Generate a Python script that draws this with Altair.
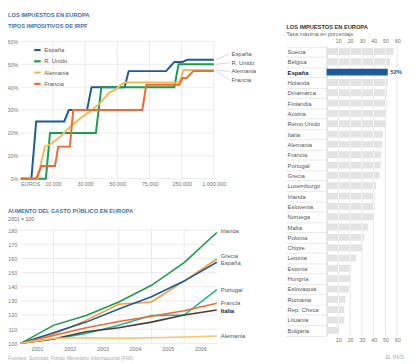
import altair as alt
import pandas as pd

# ---------------- DATA ----------------
# Tipos impositivos de IRPF (renta en euros -> tipo marginal %)
irpf_series = ["España", "R. Unido", "Alemania", "Francia"]
espana_renta = [0, 3300, 4800, 17000, 19900, 31200, 34000, 55700, 58800, 165000, 210000, 270000, 385000, 1000000]
espana_tipo = [0, 0, 25, 25, 30, 30, 40, 40, 47, 47, 51, 51, 52, 52]
runido_renta = [0, 7800, 9100, 36700, 40100, 210000, 233000, 1000000]
runido_tipo = [0, 0, 20, 20, 40, 40, 50, 50]
alemania_renta = [0, 5200, 7500, 9100, 13200, 20500, 27200, 33300, 39300, 44800, 49100, 52700, 55700, 238000, 292000, 1000000]
alemania_tipo = [0, 0, 14, 15, 17.5, 22.5, 26.5, 29.5, 33, 37.5, 39, 41, 42, 42, 47.5, 47.5]
francia_renta = [0, 4800, 6400, 11300, 13300, 20500, 22600, 69400, 72500, 237000, 269500, 368000, 520000, 1000000]
francia_tipo = [0, 0, 5.5, 5.5, 14, 14, 30, 30, 41, 41, 44, 44, 47, 47]
renta_ticks = [0, 10000, 30000, 50000, 75000, 250000, 1000000]
renta_labels = ["EUROS", "10.000", "30.000", "50.000", "75.000", "250.000", "1.000.000"]
tipo_ticks = [0, 10, 20, 30, 40, 50, 60]

# Aumento del gasto publico (2001 = 100)
gasto_periodos = [2001, 2002, 2003, 2004, 2005, 2006, 2007]
gasto_years = [2001, 2002, 2003, 2004, 2005, 2006]
gasto_series = ["Irlanda", "Grecia", "España", "Portugal", "Francia", "Italia", "Alemania"]
gasto_irlanda = [100, 112.7, 119.6, 129.2, 141, 157, 178.3]
gasto_grecia = [100, 106.5, 116.2, 127.6, 129.2, 144, 159.6]
gasto_espana = [100, 107.5, 115, 124.2, 132.9, 144, 157.3]
gasto_portugal = [100, 103, 107, 112.7, 119.6, 120, 137.9]
gasto_francia = [100, 105.5, 111, 115.5, 119.2, 123, 128.3]
gasto_italia = [100, 103, 108.2, 111, 115, 120, 123.5]
gasto_alemania = [100, 103.5, 104, 103.5, 104, 104.5, 105.2]
gasto_ticks = [100, 110, 120, 130, 140, 150, 160, 170, 180]

# Tasa maxima en porcentaje
paises = ["Suecia", "Bélgica", "España", "Holanda", "Dinamarca", "Finlandia", "Austria",
          "Reino Unido", "Italia", "Alemania", "Francia", "Portugal", "Grecia", "Luxemburgo",
          "Irlanda", "Eslovenia", "Noruega", "Malta", "Polonia", "Chipre", "Letonia", "Estonia",
          "Hungría", "Eslovaquia", "Rumania", "Rep. Checa", "Lituania", "Bulgaria"]
tasas = [57, 54, 52, 52, 51.5, 51, 50, 50, 48, 47.5, 46.5, 46, 45, 42, 41, 41, 40, 35, 32,
         30, 25, 21, 20, 19, 16, 15, 15, 10]
tasa_ticks = [10, 20, 30, 40, 50, 60]

# ---------------- STYLE / LAYOUT ----------------
FONT = "Liberation Sans"
TITLE_BLUE = "#3a72ad"
irpf_colors = ["#1c5b9a", "#1d9a4c", "#f6b855", "#f2682b"]
gasto_colors = ["#1d9a4c", "#f39c38", "#1c5b9a", "#22b3a0", "#f2682b", "#4e3b30", "#f5c46e"]
GRID = "#e6e6e6"
LABEL = "#777777"

W, H = 406, 356
TL_X0, TL_X1 = 13, 210
TL_XR = [TL_X0 + i * (TL_X1 - TL_X0) / 6 for i in range(7)]
TL_YR = [170.5, 30.5]
BL_XR = [13, 213]
BL_YR = [338.5, 223]
R_XR = [325, 397]
R_YR = [35.5, 330.5]

sx_tl = alt.Scale(domain=renta_ticks, range=TL_XR, nice=False, zero=False)
sy_tl = alt.Scale(domain=[0, 60], range=TL_YR, nice=False, zero=False)
sx_bl = alt.Scale(domain=[2001, 2007], range=BL_XR, nice=False, zero=False)
sy_bl = alt.Scale(domain=[100, 180], range=BL_YR, nice=False, zero=False)
sx_r = alt.Scale(domain=[0, 60], range=R_XR, nice=False)
sy_r = alt.Scale(domain=paises, range=R_YR, paddingInner=0, paddingOuter=0)


def text_layer(txt, x, y, size=6.0, color="#555555", weight="normal", align="left"):
    return alt.Chart(pd.DataFrame({"t": [txt]})).mark_text(
        align=align, baseline="middle", fontSize=size, color=color, fontWeight=weight, font=FONT
    ).encode(x=alt.value(x), y=alt.value(y), text="t:N")


# ---------------- TOP LEFT: IRPF ----------------
rows = []
for s, xs, ys in zip(irpf_series,
                     [espana_renta, runido_renta, alemania_renta, francia_renta],
                     [espana_tipo, runido_tipo, alemania_tipo, francia_tipo]):
    for i, (xv, yv) in enumerate(zip(xs, ys)):
        rows.append({"serie": s, "renta": xv, "tipo": yv, "i": i})
irpf_df = pd.DataFrame(rows)

tl_grid_df = pd.DataFrame(
    [{"x": renta_ticks[0], "x2": renta_ticks[-1], "y": t, "y2": t} for t in tipo_ticks]
    + [{"x": r, "x2": r, "y": tipo_ticks[0], "y2": tipo_ticks[-1]} for r in renta_ticks[1:]]
)
renta_expr = " : ".join(f"datum.value === {v} ? '{l}'" for v, l in zip(renta_ticks, renta_labels)) + " : ''"

ax_tl_x = alt.Axis(values=renta_ticks, labelExpr=renta_expr, orient="bottom", title=None, grid=False,
                   ticks=False, domain=False, labelFontSize=5.5, labelColor=LABEL, labelPadding=3,
                   labelOverlap=False, labelFlush=False, offset=TL_YR[0] - H,
                   labelAlign={"condition": {"test": "datum.value === 0", "value": "left"}, "value": "center"})
ax_tl_y = alt.Axis(values=tipo_ticks, labelExpr="datum.value + '%'", orient="left", title=None,
                   grid=False, ticks=False, domain=False, labelFontSize=5.5, labelColor=LABEL,
                   labelPadding=3, offset=-TL_X0)

tl_grid = alt.Chart(tl_grid_df).mark_rule(color=GRID, strokeWidth=0.8).encode(
    x=alt.X("x:Q", scale=sx_tl, axis=ax_tl_x), x2="x2:Q",
    y=alt.Y("y:Q", scale=sy_tl, axis=ax_tl_y), y2="y2:Q")

tl_lines = alt.Chart(irpf_df).mark_line(strokeWidth=2).encode(
    x=alt.X("renta:Q", scale=sx_tl, axis=None),
    y=alt.Y("tipo:Q", scale=sy_tl, axis=None),
    color=alt.Color("serie:N", scale=alt.Scale(domain=irpf_series, range=irpf_colors),
                    legend=alt.Legend(orient="none", legendX=25.5, legendY=34.8, title=None,
                                      symbolType="stroke", symbolStrokeWidth=2.2, symbolSize=44,
                                      labelFontSize=6, labelColor="#555555", labelFont=FONT,
                                      rowPadding=2.5, labelOffset=2.5, padding=0)),
    order="i:Q")

# end labels with leader lines (pixel nudges are layout)
tl_label_dy = [-6, -1.5, 1.5, 9]
px_per_pct = (TL_YR[0] - TL_YR[1]) / 60
tl_end = pd.DataFrame({
    "serie": irpf_series,
    "fin": [espana_tipo[-1], runido_tipo[-1], alemania_tipo[-1], francia_tipo[-1]],
})
tl_end["pos"] = [f - d / px_per_pct for f, d in zip(tl_end["fin"], tl_label_dy)]

tl_leaders = alt.Chart(tl_end).mark_rule(color="#bbbbbb", strokeWidth=0.6).encode(
    x=alt.value(TL_X1 + 2), x2=alt.value(TL_X1 + 16),
    y=alt.Y("fin:Q", scale=sy_tl, axis=None), y2="pos:Q")
tl_labels = alt.Chart(tl_end).mark_text(align="left", baseline="middle", fontSize=6,
                                        color="#555555", font=FONT).encode(
    x=alt.value(TL_X1 + 18), y=alt.Y("pos:Q", scale=sy_tl, axis=None), text="serie:N")

# ---------------- BOTTOM LEFT: GASTO ----------------
rows = []
for s, vals in zip(gasto_series, [gasto_irlanda, gasto_grecia, gasto_espana, gasto_portugal,
                                  gasto_francia, gasto_italia, gasto_alemania]):
    for p, v in zip(gasto_periodos, vals):
        rows.append({"serie": s, "periodo": p, "indice": v})
gasto_df = pd.DataFrame(rows)

bl_grid_df = pd.DataFrame(
    [{"x": gasto_periodos[0], "x2": gasto_periodos[-1], "y": t, "y2": t} for t in gasto_ticks]
    + [{"x": p, "x2": p, "y": gasto_ticks[0], "y2": gasto_ticks[-1]} for p in gasto_periodos[1:-1]]
)
half_band = (BL_XR[1] - BL_XR[0]) / (len(gasto_periodos) - 1) / 2
ax_bl_x = alt.Axis(values=gasto_years, format="d", orient="bottom", title=None, grid=False,
                   ticks=False, domain=False, labelFontSize=5.5, labelColor=LABEL, labelPadding=3.5,
                   labelOffset=half_band, labelOverlap=False, labelFlush=False, offset=BL_YR[0] - H)
ax_bl_y = alt.Axis(values=gasto_ticks, format="d", orient="left", title=None, grid=False,
                   ticks=False, domain=False, labelFontSize=5.5, labelColor=LABEL, labelPadding=4,
                   offset=-BL_XR[0])

bl_grid = alt.Chart(bl_grid_df).mark_rule(color=GRID, strokeWidth=0.8).encode(
    x=alt.X("x:Q", scale=sx_bl, axis=ax_bl_x), x2="x2:Q",
    y=alt.Y("y:Q", scale=sy_bl, axis=ax_bl_y), y2="y2:Q")

bl_lines = alt.Chart(gasto_df).mark_line(strokeWidth=1.6).encode(
    x=alt.X("periodo:Q", scale=sx_bl, axis=None),
    y=alt.Y("indice:Q", scale=sy_bl, axis=None),
    color=alt.Color("serie:N", scale=alt.Scale(domain=gasto_series, range=gasto_colors), legend=None))

bl_label_dy = [-1.5, -3, 1, 0, 0, 0.5, 0]
px_per_pt = (BL_YR[0] - BL_YR[1]) / 80
bl_end = pd.DataFrame({"serie": gasto_series,
                       "fin": [gasto_irlanda[-1], gasto_grecia[-1], gasto_espana[-1], gasto_portugal[-1],
                               gasto_francia[-1], gasto_italia[-1], gasto_alemania[-1]]})
bl_end["pos"] = [f - d / px_per_pt for f, d in zip(bl_end["fin"], bl_label_dy)]

bl_labels = alt.Chart(bl_end).transform_filter("datum.serie !== 'Italia'").mark_text(
    align="left", baseline="middle", fontSize=6, color="#555555", font=FONT).encode(
    x=alt.value(BL_XR[1] + 4), y=alt.Y("pos:Q", scale=sy_bl, axis=None), text="serie:N")
bl_label_it = alt.Chart(bl_end).transform_filter("datum.serie === 'Italia'").mark_text(
    align="left", baseline="middle", fontSize=6, color="#222222", fontWeight="bold", font=FONT).encode(
    x=alt.value(BL_XR[1] + 4), y=alt.Y("pos:Q", scale=sy_bl, axis=None), text="serie:N")

# ---------------- RIGHT: BARRAS ----------------
bar_df = pd.DataFrame({"pais": paises, "tasa": tasas})
ax_r_top = alt.Axis(values=tasa_ticks, orient="top", title=None, grid=False, ticks=False, domain=False,
                    labelFontSize=5.5, labelColor=LABEL, labelPadding=2.5, labelFlush=False,
                    labelOverlap=False, offset=-R_YR[0])
ax_r_bottom = alt.Axis(values=tasa_ticks, orient="bottom", title=None, grid=False, ticks=False,
                       domain=False, labelFontSize=5.5, labelColor=LABEL, labelPadding=2.5,
                       labelFlush=False, labelOverlap=False, offset=R_YR[1] - H)
ax_r_y = alt.Axis(title=None, orient="left", offset=-R_XR[0], tickBand="extent", tickSize=41.5,
                  tickColor="#dddddd", tickWidth=0.7, domain=True, domainColor="#c8c8c8",
                  domainWidth=0.8, labelAlign="left", labelBaseline="middle", labelPadding=-1.2,
                  labelFontSize=6, labelOverlap=False,
                  labelColor={"condition": {"test": "datum.value === 'España'", "value": "#222222"},
                              "value": "#555555"},
                  labelFontWeight={"condition": {"test": "datum.value === 'España'", "value": "bold"},
                                   "value": "normal"})

r_grid = alt.Chart(pd.DataFrame({"t": tasa_ticks})).mark_rule(color="#e0e0e0", strokeWidth=0.8).encode(
    x=alt.X("t:Q", scale=sx_r, axis=ax_r_top), y=alt.value(R_YR[0]), y2=alt.value(R_YR[1]))

bars = alt.Chart(bar_df).mark_bar(size=7).encode(
    x=alt.X("tasa:Q", scale=sx_r, axis=ax_r_bottom),
    y=alt.Y("pais:N", scale=sy_r, sort=paises, axis=ax_r_y),
    color=alt.condition("datum.pais === 'España'", alt.value("#1c5b9a"), alt.value("#e3e3e3")))

seams = alt.Chart(bar_df).transform_calculate(t=str(tasa_ticks[:-1])).transform_flatten(["t"]).transform_filter(
    "datum.t < datum.tasa && datum.pais !== 'España'").mark_tick(
    color="white", thickness=0.8, size=7, opacity=0.9).encode(
    x=alt.X("t:Q", scale=sx_r, axis=None), y=alt.Y("pais:N", scale=sy_r, axis=None))

bar_label = alt.Chart(bar_df).transform_filter("datum.pais === 'España'").transform_calculate(
    lab="datum.tasa + '%'").mark_text(align="left", baseline="middle", dx=2.5, fontSize=6,
                                       fontWeight="bold", color="#1c5b9a", font=FONT).encode(
    x=alt.X("tasa:Q", scale=sx_r, axis=None), y=alt.Y("pais:N", scale=sy_r, axis=None), text="lab:N")

# ---------------- TEXTS ----------------
texts = [
    text_layer("LOS IMPUESTOS EN EUROPA", 0, 3.4, 5.8, TITLE_BLUE, "bold"),
    text_layer("TIPOS IMPOSITIVOS DE IRPF", 0, 14.8, 5.8, TITLE_BLUE, "bold"),
    text_layer("AUMENTO DEL GASTO PÚBLICO EN EUROPA", 0, 203.8, 5.8, TITLE_BLUE, "bold"),
    text_layer("2001 = 100", 0, 211.4, 5.3, "#666666"),
    text_layer("LOS IMPUESTOS EN EUROPA", 284, 16.2, 5.8, "#333333", "bold"),
    text_layer("Tasa máxima en porcentaje", 284, 22.6, 5.6, "#666666"),
    text_layer("Fuentes: Eurostat, Fondo Monetario Internacional (FMI).", 0, 353, 5.2, "#aaaaaa"),
    text_layer("EL PAÍS", 404, 352.5, 5.2, "#aaaaaa", align="right"),
]

chart = alt.layer(
    tl_grid, tl_lines, tl_leaders, tl_labels,
    bl_grid, bl_lines, bl_labels, bl_label_it,
    r_grid, bars, seams, bar_label,
    *texts,
).resolve_scale(
    x="independent", y="independent", color="independent"
).properties(
    width=W, height=H, padding=0, autosize=alt.AutoSizeParams(type="none")
).configure(font=FONT).configure_view(stroke=None)

chart.save("out.html", embed_options={"renderer": "svg", "actions": False})
